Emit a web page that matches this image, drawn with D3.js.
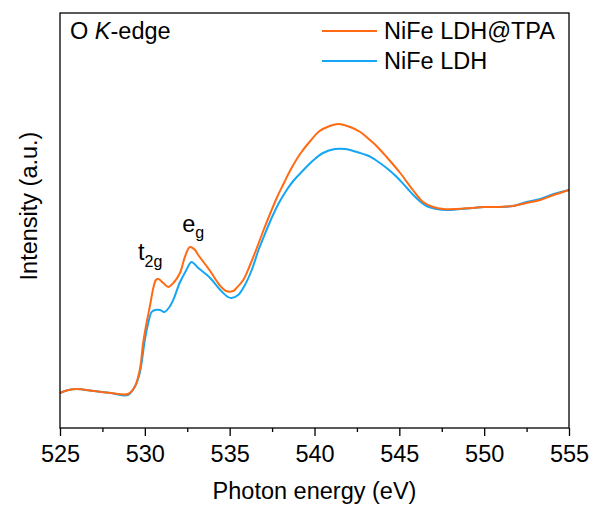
<!DOCTYPE html>
<html>
<head>
<meta charset="utf-8">
<script src="https://cdn.jsdelivr.net/npm/d3@7"></script>
<style>
  body { margin: 0; background: #fff; }
  svg { font-family: "Liberation Sans", Arial, sans-serif; }
</style>
</head>
<body>
<div id="wrapper"></div>
<script>
// energies (eV) and intensities (a.u.)
const tpaEnergy = [525.0, 525.5, 526.0, 527.0, 528.0, 529.0, 529.4, 529.7, 529.9, 530.1, 530.3, 530.5, 530.65, 530.8,
  531.09, 531.38, 531.68, 532.07, 532.36, 532.66, 532.96, 533.15, 533.85, 534.4, 534.8, 535.2, 535.4, 535.8, 536.2,
  536.6, 537.0, 537.4, 537.8, 538.2, 538.55, 539.15, 539.75, 540.3, 540.9, 541.4, 542.1, 542.7, 543.2, 543.6, 544.25,
  545.05, 545.8, 546.4, 547.0, 547.6, 548.4, 549.2, 550.0, 550.9, 551.7, 552.5, 553.3, 554.1, 555.0]
const tpaIntensity = [0.35, 0.38, 0.39, 0.37, 0.35, 0.34, 0.41, 0.58, 0.85, 1.05, 1.22, 1.40, 1.48, 1.49,
  1.45, 1.41, 1.45, 1.55, 1.71, 1.81, 1.78, 1.73, 1.57, 1.43, 1.37, 1.37, 1.40, 1.48, 1.63,
  1.80, 1.98, 2.15, 2.31, 2.45, 2.57, 2.74, 2.87, 2.97, 3.02, 3.04, 3.01, 2.96, 2.89, 2.83, 2.71,
  2.55, 2.38, 2.26, 2.21, 2.19, 2.19, 2.20, 2.21, 2.21, 2.22, 2.25, 2.28, 2.33, 2.38]

const ldhEnergy = [525.0, 525.5, 526.0, 527.0, 528.0, 529.0, 529.4, 529.7, 530.0, 530.2, 530.4, 530.6, 530.9, 531.15,
  531.45, 531.7, 532.05, 532.45, 532.75, 533.15, 533.85, 534.45, 534.9, 535.1, 535.5, 535.9, 536.3, 536.7, 537.1,
  537.5, 537.9, 538.4, 538.75, 539.35, 539.95, 540.5, 541.2, 541.8, 542.5, 543.2, 543.6, 544.25, 544.85, 545.45,
  546.0, 546.6, 547.2, 547.8, 548.6, 549.35, 550.0, 550.9, 551.7, 552.5, 553.3, 554.1, 555.0]
const ldhIntensity = [0.35, 0.38, 0.39, 0.37, 0.35, 0.33, 0.41, 0.55, 0.88, 1.05, 1.16, 1.18, 1.18, 1.16,
  1.21, 1.29, 1.45, 1.58, 1.66, 1.60, 1.50, 1.38, 1.31, 1.30, 1.33, 1.43, 1.58, 1.78, 1.95,
  2.11, 2.25, 2.39, 2.47, 2.58, 2.68, 2.75, 2.79, 2.79, 2.76, 2.72, 2.68, 2.60, 2.51, 2.40,
  2.30, 2.22, 2.19, 2.18, 2.19, 2.20, 2.21, 2.21, 2.22, 2.26, 2.29, 2.34, 2.38]

const seriesNames = ["NiFe LDH@TPA", "NiFe LDH"]
const seriesColors = ["#ff6a13", "#14a5f5"]
const xTicks = [525, 530, 535, 540, 545, 550, 555]
const xMinorTicks = [527.5, 532.5, 537.5, 542.5, 547.5, 552.5]

function drawChart() {
  const fontSize = "23.5px"
  const dimensions = {
    width: 593,
    height: 508,
    margin: { top: 13, right: 24, bottom: 80, left: 60 },
  }
  dimensions.boundedWidth = dimensions.width - dimensions.margin.left - dimensions.margin.right
  dimensions.boundedHeight = dimensions.height - dimensions.margin.top - dimensions.margin.bottom

  const wrapper = d3.select("#wrapper")
    .append("svg")
      .attr("width", dimensions.width)
      .attr("height", dimensions.height)

  const bounds = wrapper.append("g")
      .attr("transform", `translate(${dimensions.margin.left},${dimensions.margin.top})`)

  const xScale = d3.scaleLinear()
    .domain([525, 555])
    .range([0, dimensions.boundedWidth])

  const yScale = d3.scaleLinear()
    .domain([0, 4.15])
    .range([dimensions.boundedHeight, 0])

  const lineGen = d3.line()
    .x(d => xScale(d[0]))
    .y(d => yScale(d[1]))
    .curve(d3.curveCatmullRom.alpha(0.5))

  // blue first so orange sits on top
  const series = [
    { name: seriesNames[1], color: seriesColors[1], data: d3.zip(ldhEnergy, ldhIntensity) },
    { name: seriesNames[0], color: seriesColors[0], data: d3.zip(tpaEnergy, tpaIntensity) },
  ]

  bounds.selectAll(".spectrum")
      .data(series)
    .enter()
      .append("path")
        .attr("class", "spectrum")
        .attr("d", d => lineGen(d.data))
        .attr("fill", "none")
        .attr("stroke", d => d.color)
        .attr("stroke-width", 2)
        .attr("stroke-linejoin", "round")

  // axes
  bounds.append("g")
      .attr("transform", `translate(0,${dimensions.boundedHeight})`)
      .call(d3.axisBottom(xScale).tickValues(xMinorTicks).tickSize(4).tickFormat(""))
  const xAxis = bounds.append("g")
      .attr("transform", `translate(0,${dimensions.boundedHeight})`)
      .call(d3.axisBottom(xScale).tickValues(xTicks).tickSize(8).tickPadding(9).tickFormat(d3.format("d")))
  bounds.selectAll(".domain").remove()
  bounds.selectAll(".tick line").attr("stroke", "#000").attr("stroke-width", 1.3)
  xAxis.selectAll("text")
      .attr("fill", "#000")
      .style("font-size", fontSize)
      .style("font-family", "'Liberation Sans', Arial, sans-serif")

  bounds.append("rect")
      .attr("width", dimensions.boundedWidth)
      .attr("height", dimensions.boundedHeight)
      .attr("fill", "none")
      .attr("stroke", "#000")
      .attr("stroke-width", 1.3)

  // axis titles
  wrapper.append("text")
      .attr("x", dimensions.margin.left + dimensions.boundedWidth / 2)
      .attr("y", 499)
      .style("text-anchor", "middle")
      .style("font-size", fontSize)
      .text("Photon energy (eV)")

  wrapper.append("text")
      .attr("transform", "translate(37,206) rotate(-90)")
      .style("text-anchor", "middle")
      .style("font-size", fontSize)
      .text("Intensity (a.u.)")

  // panel label
  const panel = bounds.append("text")
      .attr("x", 10)
      .attr("y", 26)
      .style("font-size", fontSize)
  panel.append("tspan").text("O ")
  panel.append("tspan").style("font-style", "italic").text("K")
  panel.append("tspan").text("-edge")

  // legend
  const legend = bounds.selectAll(".legend")
      .data([series[1], series[0]])
    .enter()
      .append("g")
        .attr("class", "legend")
        .attr("transform", (d, i) => `translate(262,${18 + i * 30})`)
  legend.append("line")
      .attr("x1", 0)
      .attr("x2", 55)
      .attr("stroke", d => d.color)
      .attr("stroke-width", 2)
  legend.append("text")
      .attr("x", 62)
      .attr("y", 8)
      .style("font-size", fontSize)
      .text(d => d.name)

  // peak labels
  const t2g = bounds.append("text")
      .attr("x", xScale(529.6))
      .attr("y", 247)
      .style("font-size", fontSize)
  t2g.append("tspan").text("t")
  t2g.append("tspan").attr("dy", 7).style("font-size", "16px").text("2g")

  const eg = bounds.append("text")
      .attr("x", xScale(532.2))
      .attr("y", 219)
      .style("font-size", fontSize)
  eg.append("tspan").text("e")
  eg.append("tspan").attr("dy", 6).style("font-size", "16px").text("g")
}

drawChart()
</script>
</body>
</html>
